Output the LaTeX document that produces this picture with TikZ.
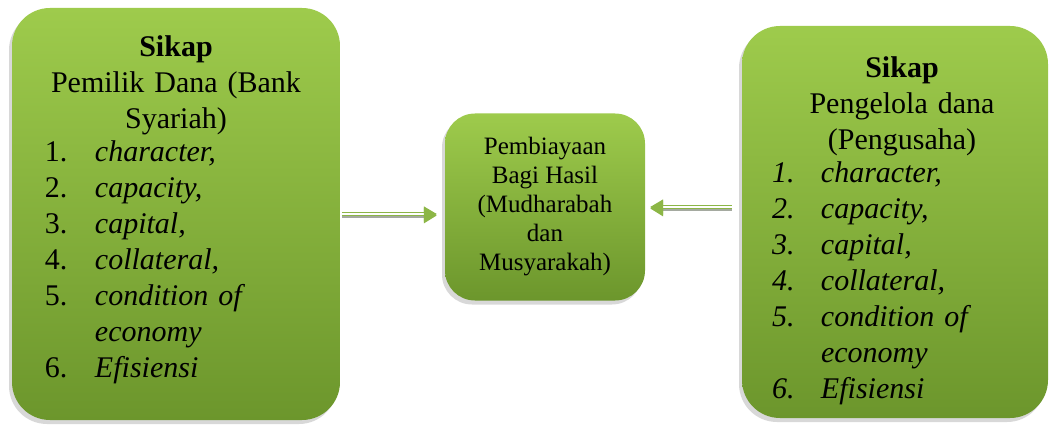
\documentclass[tikz,border=0pt]{standalone}
\usepackage{fontspec}
\setmainfont{Liberation Serif}
\usepackage{tikz}
\usetikzlibrary{arrows.meta,shadows}
\definecolor{greentop}{RGB}{158,203,76}
\definecolor{greenbot}{RGB}{108,150,44}
\definecolor{linkgray}{RGB}{165,170,160}
\definecolor{tipgreen}{RGB}{140,182,70}

\begin{document}
\begin{tikzpicture}[x=1pt,y=-1pt,
    sidebox/.style={rounded corners=38pt, top color=greentop, bottom color=greenbot,
      drop shadow={shadow xshift=-3pt, shadow yshift=-4pt, fill=black!30},
      inner sep=0pt},
    midbox/.style={rounded corners=30pt, top color=greentop, bottom color=greenbot,
      drop shadow={shadow xshift=-3pt, shadow yshift=-4pt, fill=black!30},
      font=\fontsize{25}{29}\selectfont, align=center, inner sep=0pt},
    boxtext/.style={font=\fontsize{30}{36}\selectfont, inner sep=0pt},
    twinline/.style={draw=tipgreen, double=white, double distance=1.6pt, line width=1.4pt,
      preaction={draw=linkgray, line width=4.4pt, transform canvas={yshift=-1.5pt}},
      -{Triangle[length=13pt, width=15pt, color=tipgreen]}}]
    \useasboundingbox (0,0) rectangle (1053,433);
    % left box
    \node[sidebox, minimum width=328pt, minimum height=412pt] (pemilik) at (176,214) {};
    \node[boxtext, text width=262pt] (pemiliktxt) at (176,212) {%
        {\centering\textbf{Sikap}\\ Pemilik Dana (Bank\\ Syariah)\par}
        \noindent\begin{tabular}{@{}p{50pt}@{}l@{}}
            1. & \textit{character,}\\
            2. & \textit{capacity,}\\
            3. & \textit{capital,}\\
            4. & \textit{collateral,}\\
            5. & \textit{condition of}\\
               & \textit{economy}\\
            6. & \textit{Efisiensi}
        \end{tabular}};
    % middle box
    \node[midbox, minimum width=200pt, minimum height=187pt] (tengah) at (545,207)
        {Pembiayaan\\ Bagi Hasil\\ (Mudharabah\\ dan\\ Musyarakah)};
    % right box
    \node[sidebox, minimum width=306pt, minimum height=392pt] (kelola) at (895,222) {};
    \node[boxtext, text width=248pt] (kelolatxt) at (902,233) {%
        {\centering\textbf{Sikap}\\ Pengelola dana\\ (Pengusaha)\par}
        \noindent\hspace{-6pt}\begin{tabular}{@{}p{49pt}@{}l@{}}
            \textit{1.} & \textit{character,}\\
            \textit{2.} & \textit{capacity,}\\
            \textit{3.} & \textit{capital,}\\
            \textit{4.} & \textit{collateral,}\\
            \textit{5.} & \textit{condition of}\\
                        & \textit{economy}\\
            \textit{6.} & \textit{Efisiensi}
        \end{tabular}};
    % arrows
    \draw[twinline, shorten <=2pt, shorten >=8pt] (pemilik.east) -- (pemilik.east -| tengah.west);
    \draw[twinline, shorten <=10pt, shorten >=5pt] (kelola.west |- tengah) -- (tengah.east);
\end{tikzpicture}
\end{document}
